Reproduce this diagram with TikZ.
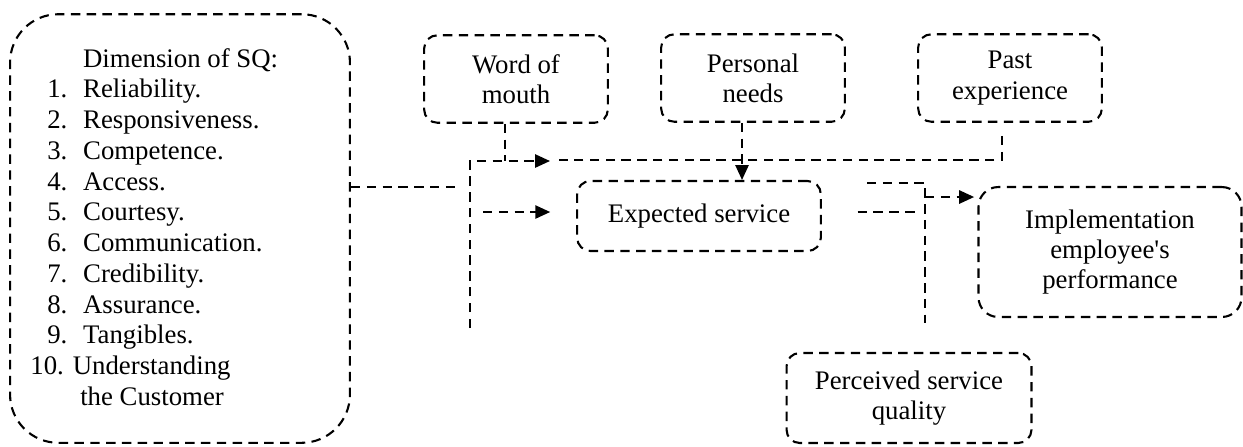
\documentclass[tikz,border=0pt]{standalone}
\usepackage{fontspec}
\setmainfont{Liberation Serif}
\usetikzlibrary{arrows.meta}
\newcommand{\dimitem}[2]{\makebox[24pt][l]{\hspace{7.7pt}#1}#2}
\begin{document}
\begin{tikzpicture}[x=0.016cm, y=-0.016cm,
  every node/.style={font=\fontsize{12.2}{13.8}\selectfont},
  dashline/.style={line width=0.95pt, dash pattern=on 4.3pt off 2.9pt},
  factor/.style={dashline, draw, rounded corners=6pt, inner sep=0pt, align=center,
    minimum width=2.94cm, minimum height=1.40cm},
  tip/.style={-{Triangle[length=6.8pt,width=6pt]}}]
\useasboundingbox (0,0) rectangle (1243,446);

% Dimension box on the left
\node[factor, minimum width=5.44cm, minimum height=6.86cm, rounded corners=22pt] (sq) at (180,228.5) {};
\node[anchor=west, align=left, inner sep=0pt, font=\fontsize{12.2}{14}\selectfont] (sqlist) at (30,227) {%
  \hspace*{24pt}Dimension of SQ:\\
  \dimitem{1.}{Reliability.}\\
  \dimitem{2.}{Responsiveness.}\\
  \dimitem{3.}{Competence.}\\
  \dimitem{4.}{Access.}\\
  \dimitem{5.}{Courtesy.}\\
  \dimitem{6.}{Communication.}\\
  \dimitem{7.}{Credibility.}\\
  \dimitem{8.}{Assurance.}\\
  \dimitem{9.}{Tangibles.}\\
  10. Understanding\\
  \hspace*{22.7pt}the Customer};

% Factors and outcomes
\node[factor] (wom) at (516,79) {Word of\\mouth};
\node[factor] (needs) at (753,78) {Personal\\needs};
\node[factor] (past) at (1010,78) {Past\\experience};
\node[factor, minimum width=3.9cm, minimum height=1.12cm] (es) at (699,216) {Expected service};
\node[factor, minimum width=4.21cm, minimum height=2.08cm, rounded corners=9pt] (impl) at (1110,252) {Implementation\\employee\textquotesingle s\\performance};
\node[factor, minimum width=3.92cm, minimum height=1.44cm] (psq) at (909,398) {Perceived service\\quality};

% Junction points
\coordinate (hub) at (550,161);
\coordinate (womkink) at (505,161);
\coordinate (pastkink) at (1002,160);
\coordinate (leftkink) at (470,161);
\coordinate (leftfoot) at (470,328);
\coordinate (needsx) at (742,0);
\coordinate (sqout) at (455,187);
\coordinate (esfeed) at (483,212);
\coordinate (esout) at (917,212);
\coordinate (rstart) at (867,183);
\coordinate (rtop) at (925,183);
\coordinate (rfoot) at (925,323);
\coordinate (rmid) at (925,197);

% Connectors
\draw[dashline] (wom.south -| womkink) -- (womkink);
\draw[dashline, shorten <=6pt, shorten >=4pt] (past.south -| pastkink) -- (pastkink) -- (pastkink -| hub);
\draw[dashline, tip] (leftfoot) -- (leftkink) -- (hub);
\draw[dashline, tip] (needs.south -| needsx) -- (es.north -| needsx);
\draw[dashline] (sq.east |- sqout) -- (sqout);
\draw[dashline, tip, shorten >=11.8pt] (esfeed) -- (es.west |- esfeed);
\draw[dashline, shorten <=16.3pt] (es.east |- esout) -- (esout);
\draw[dashline] (rstart) -- (rtop) -- (rfoot);
\draw[dashline, tip, shorten >=1.5pt] (rmid) -- (rmid -| impl.west);
\end{tikzpicture}
\end{document}
